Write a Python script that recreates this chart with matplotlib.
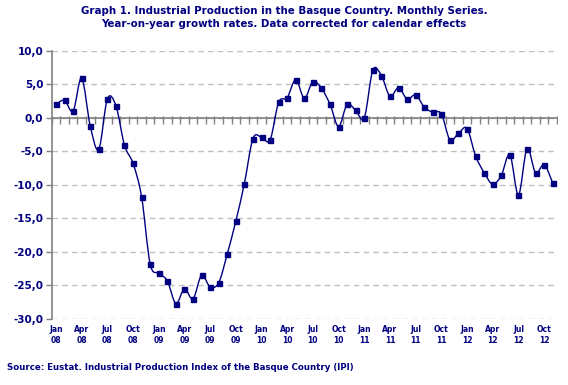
import numpy as np
import matplotlib
matplotlib.use("Agg")
import matplotlib.pyplot as plt
from matplotlib.path import Path
from matplotlib.patches import PathPatch
from matplotlib.transforms import offset_copy

# year-on-year growth rates, Jan 2008 - Nov 2012
growth_2008 = [2.0, 2.6, 1.0, 5.9, -1.2, -4.7, 2.8, 1.8, -4.1, -6.8, -11.8, -21.8]
growth_2009 = [-23.2, -24.3, -27.7, -25.5, -27.0, -23.5, -25.2, -24.6, -20.3, -15.4, -9.8, -3.1]
growth_2010 = [-2.9, -3.3, 2.3, 3.0, 5.7, 2.9, 5.4, 4.4, 2.0, -1.3, 2.0, 1.1]
growth_2011 = [0.0, 7.1, 6.3, 3.2, 4.5, 2.8, 3.4, 1.6, 0.8, 0.6, -3.3, -2.3]
growth_2012 = [-1.6, -5.7, -8.2, -9.9, -8.6, -5.5, -11.5, -4.6, -8.2, -7.0, -9.7]

month_names = ["Jan", "Apr", "Jul", "Oct"]
year_names = ["08", "09", "10", "11", "12"]

navy = "#000080"
gray = "#808080"

vals = np.array(growth_2008 + growth_2009 + growth_2010 + growth_2011 + growth_2012)
n = len(vals)
x = np.arange(n)

fig = plt.figure(figsize=(5.68, 3.85), dpi=100)
ax = fig.add_axes([0.091, 0.1714, 0.8896, 0.6969])

# smoothed line (bezier through the points, like the spreadsheet "smooth line")
pts = np.column_stack([x, vals])
pad = np.vstack([pts[0], pts, pts[-1]])
verts = [pts[0]]
codes = [Path.MOVETO]
for i in range(n - 1):
    p0, p1, p2, p3 = pad[i], pad[i + 1], pad[i + 2], pad[i + 3]
    verts += [p1 + (p2 - p0) / 6, p2 - (p3 - p1) / 6, p2]
    codes += [Path.CURVE4] * 3
ax.add_patch(PathPatch(Path(verts, codes), facecolor="none", edgecolor=navy, lw=1.0, zorder=3))
ax.plot(x, vals, ls="none", marker="s", ms=3.6, color=navy, zorder=4)

ax.set_xlim(-0.5, n - 0.5)
ax.set_ylim(-30, 10)

# y axis
yt = np.arange(-30, 11, 5)
ax.set_yticks(yt)
ax.set_yticklabels([f"{v:.1f}".replace(".", ",") for v in yt],
                   fontsize=7.5, fontweight="bold", color=navy)
ax.tick_params(axis="y", length=4, color=gray, width=1, pad=2)
ax.yaxis.grid(True, ls=(0, (4, 3)), color="#c0c0c0", lw=1)
ax.set_axisbelow(True)

for s in ["top", "right", "bottom"]:
    ax.spines[s].set_visible(False)
ax.spines["left"].set_color(gray)
ax.spines["left"].set_linewidth(1.2)

# x labels at the bottom
labels = []
for yy in year_names:
    for m in month_names:
        labels.append(f"{m}\n{yy}")
lab_pos = x[::3]
ax.set_xticks(lab_pos)
ax.set_xticklabels(labels[:len(lab_pos)], fontsize=5.5, fontweight="bold",
                   color=navy, linespacing=1.4)
ax.tick_params(axis="x", length=0, pad=4)

# zero axis with category tick marks pointing down
ax.axhline(0, color=gray, lw=1.2, zorder=2)
ax.plot(np.arange(-0.5, n, 1), np.zeros(n + 1), ls="none", marker="|", ms=6,
        mew=1, color=gray, zorder=2,
        transform=offset_copy(ax.transData, fig=fig, y=-1.5, units="points"))

fig.text(0.5, 0.985, "Graph 1. Industrial Production in the Basque Country. Monthly Series.\n"
         "Year-on-year growth rates. Data corrected for calendar effects",
         ha="center", va="top", fontsize=7.4, fontweight="bold", color=navy, linespacing=1.35)
fig.text(0.012, 0.045, "Source: Eustat. Industrial Production Index of the Basque Country (IPI)",
         ha="left", va="center", fontsize=6.2, fontweight="bold", color=navy)

fig.savefig("out.png", dpi=100)
